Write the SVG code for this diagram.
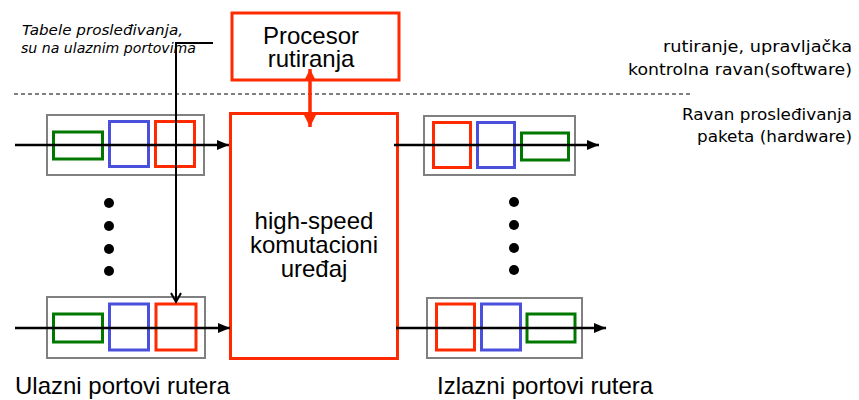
<svg xmlns="http://www.w3.org/2000/svg" width="859" height="400" viewBox="0 0 859 400">
<style>
.red{fill:none;stroke:#ff2a00;stroke-width:3}
.blue{fill:none;stroke:#4a50dc;stroke-width:3}
.green{fill:none;stroke:#007800;stroke-width:3}
.gray{fill:none;stroke:#808080;stroke-width:2}
.ln{fill:none;stroke:#000;stroke-width:2.5}
.t{font-family:"Liberation Sans",Arial,sans-serif;font-size:24px;fill:#000}
.c{font-family:"DejaVu Sans","Noto Sans",sans-serif;font-size:16px;fill:#000}
.ci{font-family:"DejaVu Sans","Noto Sans",sans-serif;font-size:13.5px;font-style:italic;fill:#000}
.dot{fill:#000}
</style>
<defs>
<marker id="ah" markerUnits="userSpaceOnUse" markerWidth="12" markerHeight="10" refX="12" refY="5" orient="auto">
<path d="M0,0 L12,5 L0,10 z" fill="#000"/>
</marker>
<marker id="rh" markerUnits="userSpaceOnUse" markerWidth="12" markerHeight="12" refX="12" refY="6" orient="auto-start-reverse">
<path d="M0,0 L12,6 L0,12 z" fill="#ff2a00"/>
</marker>
</defs>

<g id="procesor">
<rect class="red" x="232" y="13" width="167" height="67"/>
<text class="t" x="311" y="44" text-anchor="middle">Procesor</text>
<text class="t" x="311" y="67" text-anchor="middle">rutiranja</text>
</g>

<g id="fabric">
<rect class="red" x="230.5" y="113.5" width="167" height="245"/>
<text class="t" x="314" y="229" text-anchor="middle">high-speed</text>
<text class="t" x="314" y="253" text-anchor="middle">komutacioni</text>
<text class="t" x="314" y="277" text-anchor="middle">uređaj</text>
</g>

<g id="in-port-1">
<rect class="gray" x="47" y="115" width="157" height="60"/>
<rect class="green" x="53.5" y="132" width="49" height="27"/>
<rect class="blue" x="109.5" y="121.5" width="39" height="45"/>
<rect class="red" x="155.5" y="121.5" width="39" height="45"/>
</g>

<g id="in-port-2">
<rect class="gray" x="47" y="297" width="158" height="61"/>
<rect class="green" x="53.5" y="314" width="49" height="28"/>
<rect class="blue" x="109.5" y="304" width="39" height="46"/>
<rect class="red" x="156" y="304" width="40" height="46"/>
</g>

<g id="out-port-1">
<rect class="gray" x="424" y="116" width="151" height="59"/>
<rect class="red" x="433.5" y="122.5" width="37" height="45"/>
<rect class="blue" x="477.5" y="122.5" width="37" height="45"/>
<rect class="green" x="521.5" y="133" width="47" height="27"/>
</g>

<g id="out-port-2">
<rect class="gray" x="427" y="298" width="155" height="60"/>
<rect class="red" x="436.5" y="304" width="38" height="46"/>
<rect class="blue" x="481.5" y="304" width="39" height="46"/>
<rect class="green" x="527" y="314" width="48" height="28"/>
</g>

<g id="in-dots">
<circle class="dot" cx="109" cy="203" r="5"/>
<circle class="dot" cx="109" cy="226" r="5"/>
<circle class="dot" cx="109" cy="249" r="5"/>
<circle class="dot" cx="109" cy="271" r="5"/>
</g>
<g id="out-dots">
<circle class="dot" cx="514" cy="202" r="5"/>
<circle class="dot" cx="514" cy="225" r="5"/>
<circle class="dot" cx="514" cy="248" r="5"/>
<circle class="dot" cx="514" cy="270" r="5"/>
</g>

<g id="connectors">
<line x1="14" y1="94" x2="693" y2="94" stroke="#000" stroke-width="1" stroke-dasharray="4,3"/>
<line class="ln" x1="15" y1="145" x2="229" y2="145" marker-end="url(#ah)"/>
<line class="ln" x1="15" y1="328" x2="230" y2="328" marker-end="url(#ah)"/>
<line class="ln" x1="394" y1="145" x2="599" y2="145" marker-end="url(#ah)"/>
<line class="ln" x1="396" y1="328" x2="606" y2="328" marker-end="url(#ah)"/>
<polyline fill="none" stroke="#000" stroke-width="2" points="213,43 176,43 176,302"/>
<polyline fill="none" stroke="#000" stroke-width="2" points="171,293 176,302 181,293"/>
<line x1="310" y1="69" x2="310" y2="127" stroke="#ff2a00" stroke-width="3.5" marker-start="url(#rh)" marker-end="url(#rh)"/>
</g>

<g id="labels">
<text class="ci" x="22" y="35" textLength="161" lengthAdjust="spacingAndGlyphs">Tabele prosleđivanja,</text>
<text class="ci" x="21" y="53" textLength="175" lengthAdjust="spacingAndGlyphs">su na ulaznim portovima</text>
<text class="c" x="852" y="52" text-anchor="end" textLength="189" lengthAdjust="spacingAndGlyphs">rutiranje, upravljačka</text>
<text class="c" x="852" y="75" text-anchor="end" textLength="224" lengthAdjust="spacingAndGlyphs">kontrolna ravan(software)</text>
<text class="c" x="852" y="120" text-anchor="end" textLength="170" lengthAdjust="spacingAndGlyphs">Ravan prosleđivanja</text>
<text class="c" x="852" y="142" text-anchor="end" textLength="155" lengthAdjust="spacingAndGlyphs">paketa (hardware)</text>
<text class="t" x="15" y="394">Ulazni portovi rutera</text>
<text class="t" x="437" y="394">Izlazni portovi rutera</text>
</g>
</svg>
